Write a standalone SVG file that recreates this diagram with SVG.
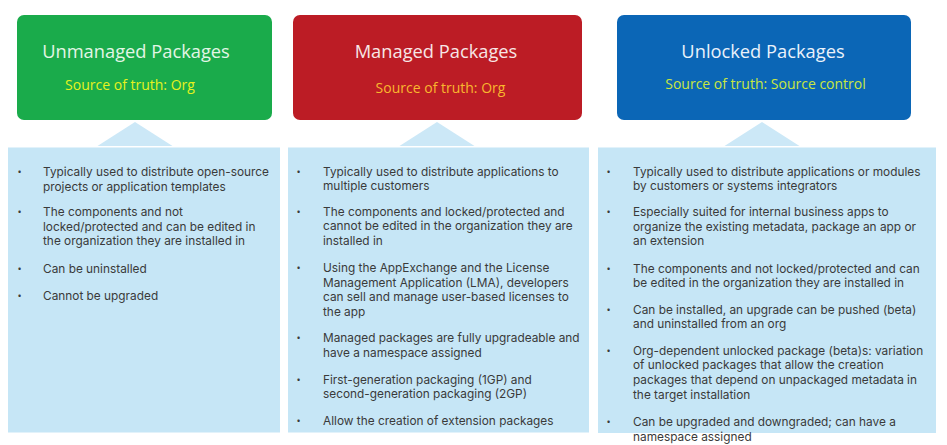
<svg xmlns="http://www.w3.org/2000/svg" width="947" height="445" viewBox="0 0 947 445">
<style>
.bg{fill:#ffffff}
.panel{fill:#c6e6f6}
.tri{fill:#cce8f7}
.title{font-family:"Open Sans","Noto Sans",sans-serif;font-size:18.3px;text-anchor:middle}
.sub{font-family:"Open Sans","Noto Sans",sans-serif;font-size:14px;text-anchor:middle}
.body{font-family:Inter,"Open Sans",sans-serif;font-size:11.85px;fill:#3a3a3a}
.dot{font-family:"Open Sans","Noto Sans",sans-serif;font-size:11px;fill:#3a3a3a}
</style>
<rect class="bg" x="0" y="0" width="947" height="445"/>
<g id="unmanaged">
  <rect x="17" y="15" width="255" height="105" rx="7" fill="#1aab4b"/>
  <text class="title" x="136" y="57.5" fill="#e3f6e6">Unmanaged Packages</text>
  <text class="sub" x="130" y="90" fill="#e6f21e">Source of truth: Org</text>
  <polygon class="tri" points="135,122 172.5,146 97.5,146"/>
  <rect class="panel" x="8" y="147.5" width="272" height="285"/>
  <g class="body">
    <text class="dot" x="17.5" y="176">•</text><text x="43" y="176">Typically used to distribute open-source<tspan x="43" dy="14.7">projects or application templates</tspan></text>
    <text class="dot" x="17.5" y="216">•</text><text x="43" y="216">The components and not<tspan x="43" dy="14.7">locked/protected and can be edited in</tspan><tspan x="43" dy="14.7">the organization they are installed in</tspan></text>
    <text class="dot" x="17.5" y="272.5">•</text><text x="43" y="272.5">Can be uninstalled</text>
    <text class="dot" x="17.5" y="299.5">•</text><text x="43" y="299.5">Cannot be upgraded</text>
  </g>
</g>
<g id="managed">
  <rect x="293" y="15" width="289" height="105" rx="7" fill="#bc1c25"/>
  <text class="title" x="436" y="58" fill="#f7e6e6">Managed Packages</text>
  <text class="sub" x="440.5" y="93" fill="#f9b72e">Source of truth: Org</text>
  <polygon class="tri" points="437,122 474.5,146 399.5,146"/>
  <rect class="panel" x="288" y="147.5" width="301" height="285"/>
  <g class="body">
    <text class="dot" x="296.5" y="175.5">•</text><text x="323" y="175.5">Typically used to distribute applications to<tspan x="323" dy="14.7">multiple customers</tspan></text>
    <text class="dot" x="296.5" y="215.5">•</text><text x="323" y="215.5">The components and locked/protected and<tspan x="323" dy="14.7">cannot be edited in the organization they are</tspan><tspan x="323" dy="14.7">installed in</tspan></text>
    <text class="dot" x="296.5" y="272">•</text><text x="323" y="272">Using the AppExchange and the License<tspan x="323" dy="14.7">Management Application (LMA), developers</tspan><tspan x="323" dy="14.7">can sell and manage user-based licenses to</tspan><tspan x="323" dy="14.7">the app</tspan></text>
    <text class="dot" x="296.5" y="342">•</text><text x="323" y="342">Managed packages are fully upgradeable and<tspan x="323" dy="14.7">have a namespace assigned</tspan></text>
    <text class="dot" x="296.5" y="383.5">•</text><text x="323" y="383.5">First-generation packaging (1GP) and<tspan x="323" dy="14.7">second-generation packaging (2GP)</tspan></text>
    <text class="dot" x="296.5" y="425">•</text><text x="323" y="425">Allow the creation of extension packages</text>
  </g>
</g>
<g id="unlocked">
  <rect x="617" y="15" width="294" height="105" rx="7" fill="#0b66b6"/>
  <text class="title" x="763" y="58" fill="#eaf2fb">Unlocked Packages</text>
  <text class="sub" x="765.5" y="89" fill="#c9e640">Source of truth: Source control</text>
  <polygon class="tri" points="762,122 799.5,146 724.5,146"/>
  <rect class="panel" x="598" y="147.5" width="338" height="285.5"/>
  <g class="body">
    <text class="dot" x="606.5" y="175.5">•</text><text x="633" y="175.5">Typically used to distribute applications or modules<tspan x="633" dy="14.7">by customers or systems integrators</tspan></text>
    <text class="dot" x="606.5" y="216">•</text><text x="633" y="216">Especially suited for internal business apps to<tspan x="633" dy="14.7">organize the existing metadata, package an app or</tspan><tspan x="633" dy="14.7">an extension</tspan></text>
    <text class="dot" x="606.5" y="272.5">•</text><text x="633" y="272.5">The components and not locked/protected and can<tspan x="633" dy="14.7">be edited in the organization they are installed in</tspan></text>
    <text class="dot" x="606.5" y="313.5">•</text><text x="633" y="313.5">Can be installed, an upgrade can be pushed (beta)<tspan x="633" dy="14.7">and uninstalled from an org</tspan></text>
    <text class="dot" x="606.5" y="354.5">•</text><text x="633" y="354.5">Org-dependent unlocked package (beta)s: variation<tspan x="633" dy="14.7">of unlocked packages that allow the creation</tspan><tspan x="633" dy="14.7">packages that depend on unpackaged metadata in</tspan><tspan x="633" dy="14.7">the target installation</tspan></text>
    <text class="dot" x="606.5" y="425.5">•</text><text x="633" y="425.5">Can be upgraded and downgraded; can have a<tspan x="633" dy="15.5">namespace assigned</tspan></text>
  </g>
</g>
<g id="connectors"></g>
</svg>
